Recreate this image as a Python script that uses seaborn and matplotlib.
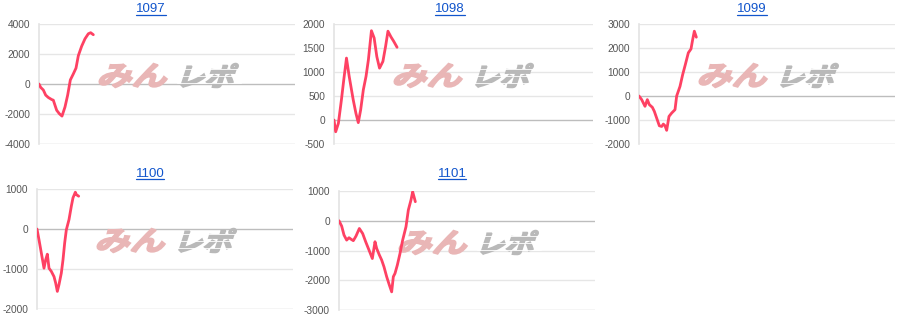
import numpy as np
import pandas as pd
import matplotlib
matplotlib.use("Agg")
import matplotlib.pyplot as plt
import seaborn as sns
from matplotlib.textpath import TextPath
from matplotlib.font_manager import FontProperties
from matplotlib.patches import PathPatch
from matplotlib.lines import Line2D
import matplotlib.transforms as mtransforms

# ---- data (games played vs. medal difference) ----
titles = ["1097", "1098", "1099", "1100", "1101"]

games_1097 = [0, 50, 130, 200, 280, 380, 430, 480, 530, 610, 690, 780, 860, 940, 1030, 1110, 1180, 1280, 1380, 1480, 1550, 1630]
diff_1097 = [0, -225, -400, -740, -900, -1035, -1080, -1420, -1750, -1980, -2140, -1530, -740, 270, 675, 1060, 1890, 2520, 3015, 3350, 3420, 3285]

games_1098 = [0, 50, 130, 220, 290, 370, 450, 570, 650, 720, 790, 870, 950, 1020, 1110, 1190, 1270, 1350, 1450, 1530, 1600, 1690, 1770, 1870]
diff_1098 = [0, -245, -70, 420, 840, 1290, 910, 420, 140, -55, 210, 630, 910, 1255, 1860, 1710, 1320, 1080, 1220, 1535, 1850, 1730, 1640, 1515]

games_1099 = [0, 80, 180, 250, 310, 400, 460, 530, 610, 680, 730, 780, 830, 900, 980, 1080, 1130, 1230, 1310, 1390, 1480, 1560, 1610, 1660, 1720]
diff_1099 = [0, -150, -430, -150, -360, -470, -640, -920, -1240, -1270, -1170, -1240, -1430, -850, -710, -570, 0, 400, 890, 1310, 1800, 1960, 2350, 2700, 2450]

games_1100 = [0, 60, 130, 210, 260, 310, 360, 430, 510, 560, 610, 660, 730, 780, 830, 880, 960, 1030, 1080, 1150, 1180, 1250]
diff_1100 = [0, -270, -600, -980, -770, -630, -980, -1060, -1190, -1350, -1560, -1390, -1100, -770, -350, -20, 235, 570, 780, 920, 860, 820]

games_1101 = [0, 80, 150, 230, 300, 360, 430, 510, 610, 710, 800, 900, 1000, 1080, 1130, 1210, 1280, 1350, 1430, 1510, 1580, 1630, 1680, 1750, 1830, 1910, 2010, 2080, 2160, 2210, 2250, 2290]
diff_1101 = [0, -180, -480, -650, -570, -620, -670, -515, -260, -430, -705, -985, -1270, -705, -930, -1150, -1320, -1550, -1880, -2160, -2390, -1880, -1770, -1490, -1100, -650, -200, 360, 700, 975, 810, 640]

y_limits = [(-4000, 4000), (-500, 2000), (-2000, 3000), (-2000, 1000), (-3000, 1000)]
y_steps = [2000, 500, 1000, 1000, 1000]
x_max = 7680

series = [(games_1097, diff_1097), (games_1098, diff_1098), (games_1099, diff_1099),
          (games_1100, diff_1100), (games_1101, diff_1101)]

# ---- layout (pixels, top-left origin) ----
W, H = 900, 330
boxes = [(39, 24, 256, 120), (334, 24, 259, 120), (639, 24, 256, 120),
         (37, 189, 256, 120), (339, 191, 256, 119)]
title_pos = [(151, 9), (450, 9), (752, 9), (150, 174), (452, 174)]

sns.set_theme(style="white")
plt.rcParams["font.family"] = ["Liberation Sans", "DejaVu Sans"]

fig = plt.figure(figsize=(W / 100, H / 100), dpi=100)
fig.patch.set_facecolor("white")

line_color = "#fe4163"
grid_color = "#e6e6e6"
zero_color = "#bdbdbd"

wm_font = FontProperties(family="Noto Sans CJK JP", weight="bold")


def glyph_patch(text, x0, y0, w, h, color, skew=18, stroke=1.3):
    tp = TextPath((0, 0), text, size=1, prop=wm_font)
    v = tp.vertices
    xmin, ymin = v[:, 0].min(), v[:, 1].min()
    xmax, ymax = v[:, 0].max(), v[:, 1].max()
    shift = h * np.tan(np.radians(skew))
    pad = stroke * 0.5
    tr = (mtransforms.Affine2D()
          .translate(-xmin, -ymin)
          .scale((w - shift - 2 * pad) / (xmax - xmin), (h - 2 * pad) / (ymax - ymin))
          .skew_deg(skew, 0)
          .translate(x0 + pad, H - y0 - h + pad))
    path = tr.transform_path(tp)
    return PathPatch(path, facecolor=color, edgecolor=color, linewidth=stroke,
                     joinstyle="miter",
                     transform=mtransforms.IdentityTransform(), zorder=1.5)


for i, ((gx, gy), (l, t, w, h)) in enumerate(zip(series, boxes)):
    ax = fig.add_axes([l / W, 1 - (t + h) / H, w / W, h / H])
    df = pd.DataFrame({"games": gx, "diff": gy})
    sns.lineplot(data=df, x="games", y="diff", ax=ax, color=line_color,
                 linewidth=2.0, zorder=3, sort=False)
    lo, hi = y_limits[i]
    ax.set_xlim(0, x_max)
    ax.set_ylim(lo, hi)
    ticks = np.arange(lo, hi + 1, y_steps[i])
    ax.set_yticks(ticks)
    ax.set_yticklabels([str(int(v)) for v in ticks])
    ax.set_xticks([])
    ax.set_xlabel("")
    ax.set_ylabel("")
    for v in ticks:
        if v == 0:
            continue
        c = "#cccccc" if v == lo else grid_color
        ax.axhline(v, color=c, lw=1.0, zorder=1)
    ax.axhline(0, color=zero_color, lw=1.0, zorder=1)
    for s in ["top", "right", "bottom"]:
        ax.spines[s].set_visible(False)
    ax.spines["left"].set_color("#e3e3e3")
    ax.spines["left"].set_linewidth(1.2)
    ax.tick_params(axis="y", length=5, width=1.0, color=grid_color,
                   labelsize=7.3, labelcolor="#555555", pad=1.5)
    ax.set_facecolor("white")

    # watermark
    wx, wy = l + 56, t + 39
    ax.add_patch(glyph_patch("みん", wx, wy, 78, 25, "#e9b6b6"))
    ax.add_patch(glyph_patch("レポ", wx + 79, wy, 66, 25, "#b9b9b9"))
    for k in range(3):
        yy = H - (wy + 6 + k * 7)
        ax.add_line(Line2D([wx + 82, wx + 146], [yy, yy], color="white", lw=0.6,
                           transform=mtransforms.IdentityTransform(), zorder=1.6))

    # title (link style, underlined)
    tx, ty = title_pos[i]
    fig.text(tx / W, 1 - ty / H, titles[i], ha="center", va="center",
             fontsize=9.5, color="#1155cc")

fig.canvas.draw()
renderer = fig.canvas.get_renderer()
for t in list(fig.texts):
    bb = t.get_window_extent(renderer)
    yline = bb.y0 + 0.5
    fig.add_artist(Line2D([bb.x0 / W, bb.x1 / W], [yline / H, yline / H],
                          color="#1155cc", lw=0.9, transform=fig.transFigure))

fig.savefig("out.png", dpi=100, facecolor="white")
